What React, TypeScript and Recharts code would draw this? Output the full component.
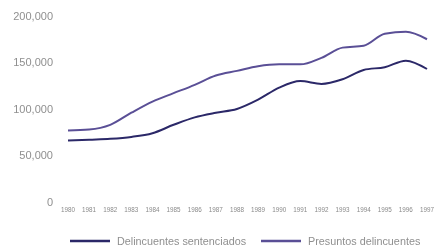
import { LineChart, Line, XAxis, YAxis } from "recharts";

const years = [
  "1980", "1981", "1982", "1983", "1984", "1985", "1986", "1987", "1988",
  "1989", "1990", "1991", "1992", "1993", "1994", "1995", "1996", "1997",
];
const sentenciados = [
  66000, 67000, 68000, 70000, 74000, 83000, 91000, 96000, 100000,
  110000, 123000, 130000, 127000, 132000, 142000, 145000, 152000, 143000,
];
const presuntos = [
  77000, 78000, 83000, 96000, 108000, 117000, 126000, 136000, 141000,
  146000, 148000, 148000, 155000, 166000, 168000, 181000, 183000, 175000,
];
const yTicks = [0, 50000, 100000, 150000, 200000];

const data = years.map((year, i) => ({
  year,
  sentenciados: sentenciados[i],
  presuntos: presuntos[i],
}));

const seriesInfo = [
  { key: "sentenciados", name: "Delincuentes sentenciados", color: "#2b2868" },
  { key: "presuntos", name: "Presuntos delincuentes", color: "#5a4f96" },
];

const fmt = (v: number) => v.toLocaleString("en-US");

export default function App() {
  return (
    <div
      style={{
        position: "fixed",
        left: 0,
        top: 0,
        width: 434,
        height: 248,
        fontFamily: "Liberation Sans, Arial, sans-serif",
      }}
    >
      <LineChart
        width={434}
        height={248}
        data={data}
        margin={{ top: 16, right: 7, bottom: 32, left: 0 }}
      >
        <XAxis
          dataKey="year"
          axisLine={false}
          tickLine={false}
          tickSize={0}
          tickMargin={6}
          interval={0}
          height={14}
          tick={{ fontSize: 6.3, fill: "#8a8a8a" }}
        />
        <YAxis
          domain={[0, 200000]}
          ticks={yTicks}
          axisLine={false}
          tickLine={false}
          tickSize={0}
          tickMargin={15}
          width={68}
          tickFormatter={fmt}
          tick={{ fontSize: 11, fill: "#8f8f8f" }}
        />
        {seriesInfo.map((s) => (
          <Line
            key={s.key}
            type="monotone"
            dataKey={s.key}
            name={s.name}
            stroke={s.color}
            strokeWidth={2}
            dot={false}
            isAnimationActive={false}
          />
        ))}
      </LineChart>
      {/* legend */}
      <div
        style={{
          position: "absolute",
          left: 70,
          top: 234,
          height: 14,
          display: "flex",
          alignItems: "center",
        }}
      >
        {seriesInfo.map((s, i) => (
          <div
            key={s.key}
            style={{ display: "flex", alignItems: "center", marginLeft: i === 0 ? 0 : 15 }}
          >
            <svg width={40} height={4} style={{ marginRight: 7 }}>
              <line x1={0} y1={2} x2={40} y2={2} stroke={s.color} strokeWidth={2.5} />
            </svg>
            <span style={{ fontSize: 10.8, color: "#8f8f8f", whiteSpace: "nowrap" }}>
              {s.name}
            </span>
          </div>
        ))}
      </div>
    </div>
  );
}
